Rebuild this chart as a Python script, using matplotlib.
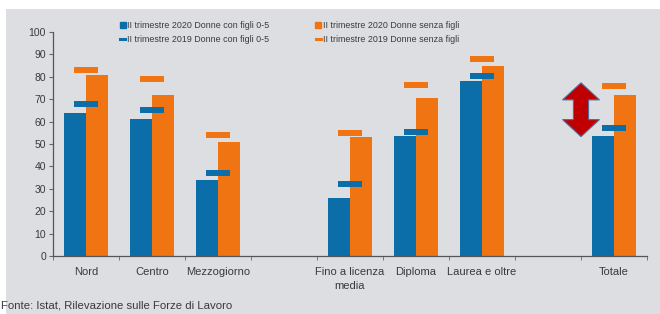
import numpy as np
import matplotlib
matplotlib.use('Agg')
import matplotlib.pyplot as plt
from matplotlib.lines import Line2D
from matplotlib.patches import Rectangle, Polygon

plt.rcParams['font.family'] = ['Liberation Sans', 'DejaVu Sans']

# dati
categorie = ['Nord', 'Centro', 'Mezzogiorno', '', 'Fino a licenza\nmedia',
             'Diploma', 'Laurea e oltre', '', 'Totale']
con_figli_2020 = [64, 61, 34, None, 26, 53.5, 78, None, 53.5]
senza_figli_2020 = [81, 72, 51, None, 53, 70.5, 85, None, 72]
con_figli_2019 = [68, 65, 37, None, 32, 55.5, 80.5, None, 57]
senza_figli_2019 = [83, 79, 54, None, 55, 76.5, 88, None, 76]
etichette = ['II trimestre 2020 Donne con figli 0-5',
             'II trimestre 2019 Donne con figli 0-5',
             'II trimestre 2020 Donne senza figli',
             'II trimestre 2019 Donne senza figli']

blu = '#0b6ea8'
arancio = '#f07412'
grigio = '#dddee2'
testo = '#3a3a3a'

fig = plt.figure(figsize=(6.6, 3.14), dpi=100)
fig.patch.set_facecolor('white')
fig.patches.append(Rectangle((6 / 660, 0), 1, 305 / 314, transform=fig.transFigure,
                             facecolor=grigio, edgecolor='none', zorder=-5))

ax = fig.add_axes([53 / 660, 1 - 256 / 314, 594 / 660, 224 / 314])
ax.set_facecolor('none')

x = np.arange(len(categorie))
idx = [i for i in x if con_figli_2020[i] is not None]
w = 0.34
ax.bar([i - w / 2 for i in idx], [con_figli_2020[i] for i in idx], w, color=blu, zorder=2)
ax.bar([i + w / 2 for i in idx], [senza_figli_2020[i] for i in idx], w, color=arancio, zorder=2)
ax.hlines([con_figli_2019[i] for i in idx], [i - 0.18 for i in idx], [i + 0.18 for i in idx],
          color=blu, lw=4.3, capstyle='butt', zorder=3)
ax.hlines([senza_figli_2019[i] for i in idx], [i - 0.18 for i in idx], [i + 0.18 for i in idx],
          color=arancio, lw=4.3, capstyle='butt', zorder=3)

# freccia rossa sul totale
xc, y0, y1 = 7.5, 53.3, 77.3
hw, sw, hl = 0.28, 0.115, 7.6
freccia = [(xc, y1), (xc + hw, y1 - hl), (xc + sw, y1 - hl), (xc + sw, y0 + hl), (xc + hw, y0 + hl),
           (xc, y0), (xc - hw, y0 + hl), (xc - sw, y0 + hl), (xc - sw, y1 - hl), (xc - hw, y1 - hl)]
ax.add_patch(Polygon(freccia, closed=True, facecolor='#c00000', edgecolor='#4f6f9f',
                     lw=0.8, zorder=4))

ax.set_xlim(-0.5, len(categorie) - 0.5)
ax.set_ylim(0, 100)
ax.set_yticks(range(0, 101, 10))
ax.set_xticks(x)
ax.set_xticklabels(categorie, fontsize=8, color=testo, linespacing=1.45)
ax.set_xticks(np.arange(-0.5, len(categorie), 1), minor=True)
ax.tick_params(axis='x', which='major', length=0, pad=8)
ax.tick_params(axis='x', which='minor', length=3, color='#666666', direction='out')
ax.tick_params(axis='y', length=3, color='#666666', labelsize=7.5, labelcolor=testo, pad=2)
for s in ['top', 'right']:
    ax.spines[s].set_visible(False)
for s in ['left', 'bottom']:
    ax.spines[s].set_color('#555555')
    ax.spines[s].set_linewidth(0.9)

handles = [Line2D([], [], marker='s', ls='None', color=blu, markersize=4.5),
           Line2D([], [], color=blu, lw=2.2),
           Line2D([], [], marker='s', ls='None', color=arancio, markersize=4.5),
           Line2D([], [], color=arancio, lw=2.2)]
fig.legend(handles, etichette, loc='upper left', bbox_to_anchor=(112 / 660, 1 - 13 / 314),
           ncol=2, frameon=False, fontsize=6.4, handlelength=0.6, handletextpad=0.2,
           columnspacing=5.2, labelspacing=0.55, labelcolor=testo)

fig.text(1 / 660, 1 - 306 / 314, 'Fonte: Istat, Rilevazione sulle Forze di Lavoro',
         fontsize=8.2, color=testo, va='center', ha='left')

fig.savefig('out.png', dpi=100, facecolor=fig.get_facecolor())
